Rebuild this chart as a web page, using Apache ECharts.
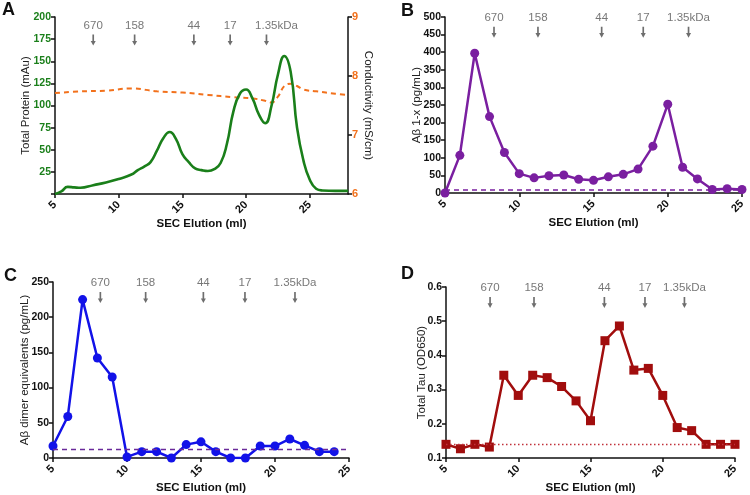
<!DOCTYPE html>
<html><head><meta charset="utf-8">
<script src="https://cdn.jsdelivr.net/npm/echarts@6/dist/echarts.min.js"></script>
<style>html,body{margin:0;padding:0;background:#fff}#c{width:750px;height:495px}</style>
</head><body><div id="c"></div>
<script>
// ---- Panel A: chromatogram ----
const protMl = [5,5.5,6,6.5,7,8,9,10,11,11.5,12,12.5,13,13.5,14,14.5,15,15.5,16,16.5,17,17.5,18,18.5,19,19.5,20,20.5,21,21.5,22,22.5,23,23.5,24,24.5,25,25.5,26,27,28];
const protein = [0,3,8,7.5,7,10,13,17,22,27,31,36,49,63,70,62,45,36,29,27,26,28,35,57,93,113,118,108,90,80,100,135,156,138,75,38,16,6,4,3.5,3.5];
const condMl = [5,7,9,11,13,15,17,19,20.5,21.5,22,22.5,23,23.5,24,24.5,25.5,27,28];
const conductivity = [7.71,7.74,7.75,7.79,7.74,7.72,7.68,7.64,7.62,7.58,7.55,7.65,7.83,7.87,7.83,7.77,7.74,7.70,7.68];
// ---- Panels B-D: fractions ----
const fractions = [5,6,7,8,9,10,11,12,13,14,15,16,17,18,19,20,21,22,23,24,25];
const abeta1x = [0,107,397,217,115,55,43,49,51,39,36,46,53,68,133,252,73,40,10,12,10];
const abetaDimer = [17,59,225,142,115,1.5,9,9,0,19,23,9,0,0,17,17,27,18,9,9];
const totalTau = [0.140,0.127,0.140,0.132,0.342,0.283,0.342,0.335,0.309,0.267,0.209,0.443,0.486,0.357,0.362,0.283,0.189,0.180,0.140,0.140,0.140];
const cutoffB = 8, cutoffC = 12, cutoffD = 0.143;
// ---- size standards ----
const stdLabels = ['670','158','44','17','1.35kDa'];
const stdA = [8.0,11.25,15.9,18.75,21.6];
const stdB = [8.3,11.26,15.55,18.35,21.4];
const stdC = [8.2,11.26,15.16,17.97,21.35];
const stdD = [8.05,11.09,15.96,18.77,21.5];

const FONT = '"Liberation Sans", Arial, sans-serif';
const GREEN = '#1a7f1a', ORANGE = '#f2711c', PURPLE = '#7a1fa0', BLUE = '#1212e8', RED = '#a10d0d';
const ARROW = 'path://M2,0 L4,0 L4,7 L6,7 L3,12 L0,7 L2,7 Z';
const TICK_FS = 10.5;

function xAx(idx, max) {
  return {
    type: 'value', gridIndex: idx, min: 5, max: max, interval: 5,
    axisLine: {lineStyle: {color: '#111', width: 1.5}},
    axisTick: {length: 4, lineStyle: {color: '#111', width: 1.5}},
    splitLine: {show: false},
    axisLabel: {rotate: 45, fontFamily: FONT, fontWeight: 'bold', fontSize: 11, color: '#111', margin: 9,
      showMaxLabel: max === 25 ? true : false},
    name: 'SEC Elution (ml)', nameLocation: 'middle', nameGap: 24, nameMoveOverlap: false,
    nameTextStyle: {fontFamily: FONT, fontWeight: 'bold', fontSize: 11.5, color: '#111'}
  };
}
function yAx(idx, min, max, interval, name, gap, extra) {
  return Object.assign({
    type: 'value', gridIndex: idx, min: min, max: max, interval: interval,
    axisLine: {show: true, lineStyle: {color: '#111', width: 1.5}},
    axisTick: {show: true, length: 4, lineStyle: {color: '#111', width: 1.5}},
    splitLine: {show: false},
    axisLabel: {fontFamily: FONT, fontWeight: 'bold', fontSize: TICK_FS, color: '#111', margin: 4},
    name: name, nameLocation: 'middle', nameGap: gap, nameMoveOverlap: false,
    nameTextStyle: {fontFamily: FONT, fontSize: 11.5, color: '#222'}
  }, extra || {});
}
function stdSeries(xi, yi, pos, yv, lastOffset) {
  return {
    type: 'scatter', xAxisIndex: xi, yAxisIndex: yi, symbol: ARROW, symbolSize: [5, 11],
    itemStyle: {color: '#4a4a4a'}, silent: true,
    data: pos.map((p, i) => ({value: [p, yv], name: stdLabels[i],
      label: (i === 4 && lastOffset) ? {offset: [lastOffset, 0]} : undefined})),
    label: {show: true, position: 'top', distance: 3, formatter: p => p.name,
      fontFamily: FONT, fontSize: 11.5, color: '#555'}
  };
}
function pair(xs, ys) { return ys.map((v, i) => [xs[i], v]); }

const chart = echarts.init(document.getElementById('c'), null, {renderer: 'canvas'});
chart.setOption({
  animation: false,
  backgroundColor: '#fff',
  grid: [
    {left: 55, top: 17, width: 293, height: 177},
    {left: 445, top: 17, width: 297, height: 176},
    {left: 53, top: 282, width: 296, height: 177},
    {left: 446, top: 287, width: 289, height: 172}
  ],
  xAxis: [xAx(0, 28), xAx(1, 25), xAx(2, 25), xAx(3, 25)],
  yAxis: [
    yAx(0, 0, 200, 25, 'Total Protein (mAu)', 23, {axisLabel: {fontFamily: FONT, fontWeight: 'bold', fontSize: TICK_FS, color: GREEN, margin: 4,
      formatter: v => v === 0 ? '' : v}}),
    yAx(0, 6, 9, 1, 'Conductivity (mS/cm)', 14, {position: 'right', nameRotate: -90,
      axisLabel: {fontFamily: FONT, fontWeight: 'bold', fontSize: 11, color: ORANGE, margin: 4}}),
    yAx(1, 0, 500, 50, 'A\u03b2 1-x (pg/mL)', 22),
    yAx(2, 0, 250, 50, 'A\u03b2 dimer equivalents (pg/mL)', 22),
    yAx(3, 0.1, 0.6, 0.1, 'Total Tau (OD650)', 18, {axisLabel: {fontFamily: FONT, fontWeight: 'bold', fontSize: TICK_FS, color: '#111', margin: 4,
      formatter: v => v.toFixed(1)}})
  ],
  series: [
    {type: 'line', xAxisIndex: 0, yAxisIndex: 1, data: pair(condMl, conductivity), smooth: 0.4, symbol: 'none',
      lineStyle: {color: ORANGE, width: 2, type: [5, 4]}, z: 2},
    {type: 'line', xAxisIndex: 0, yAxisIndex: 0, data: pair(protMl, protein), smooth: 0.5, symbol: 'none',
      lineStyle: {color: GREEN, width: 2.6}, z: 3},
    stdSeries(0, 0, stdA, 174, 10),
    {type: 'line', xAxisIndex: 1, yAxisIndex: 2, data: pair(fractions, abeta1x), symbol: 'circle', symbolSize: 9,
      lineStyle: {color: PURPLE, width: 2.5}, itemStyle: {color: PURPLE},
      markLine: {silent: true, symbol: 'none', label: {show: false},
        lineStyle: {color: PURPLE, type: [5, 4], width: 1.5}, data: [{yAxis: cutoffB}]}},
    stdSeries(1, 2, stdB, 457),
    {type: 'line', xAxisIndex: 2, yAxisIndex: 3, data: pair(fractions, abetaDimer), symbol: 'circle', symbolSize: 9,
      lineStyle: {color: BLUE, width: 2.5}, itemStyle: {color: BLUE},
      markLine: {silent: true, symbol: 'none', label: {show: false},
        lineStyle: {color: '#6a2a9a', type: [5, 4], width: 1.3}, data: [{yAxis: cutoffC}]}},
    stdSeries(2, 3, stdC, 228),
    {type: 'line', xAxisIndex: 3, yAxisIndex: 4, data: pair(fractions, totalTau), symbol: 'rect', symbolSize: 9,
      lineStyle: {color: RED, width: 2.5}, itemStyle: {color: RED},
      markLine: {silent: true, symbol: 'none', label: {show: false},
        lineStyle: {color: '#c0303a', type: [1.5, 2.5], width: 1.3}, data: [{yAxis: cutoffD}]}},
    stdSeries(3, 4, stdD, 0.555)
  ],
  graphic: [
    {type: 'text', left: 2, top: 1, style: {text: 'A', font: 'bold 18px ' + FONT, fill: '#111'}},
    {type: 'text', left: 401, top: 2, style: {text: 'B', font: 'bold 18px ' + FONT, fill: '#111'}},
    {type: 'text', left: 4, top: 267, style: {text: 'C', font: 'bold 18px ' + FONT, fill: '#111'}},
    {type: 'text', left: 401, top: 265, style: {text: 'D', font: 'bold 18px ' + FONT, fill: '#111'}}
  ]
});
</script></body></html>
